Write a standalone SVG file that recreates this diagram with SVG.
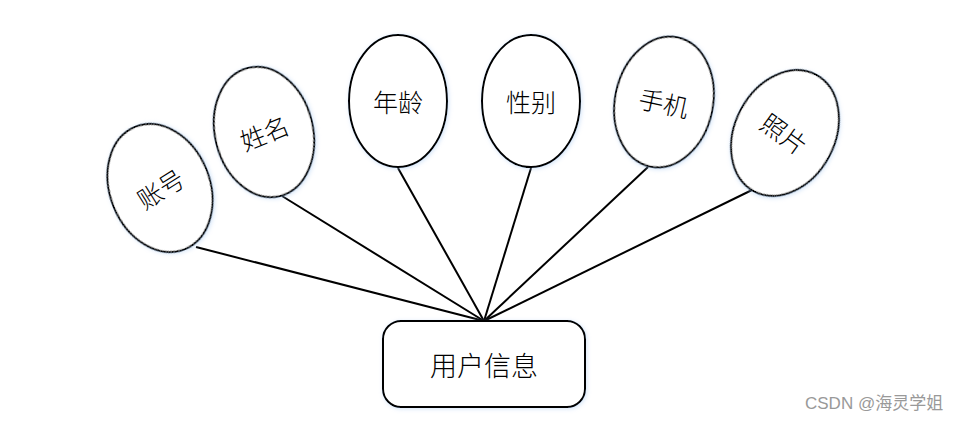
<svg xmlns="http://www.w3.org/2000/svg" width="958" height="422" viewBox="0 0 958 422">
<defs>
<filter id="glow" x="-20%" y="-20%" width="140%" height="140%">
<feDropShadow dx="1" dy="1" stdDeviation="2" flood-color="#9ec3f0" flood-opacity="0.45"/>
</filter>
<style>
.shape{fill:#fff;stroke:#000;stroke-width:2;filter:url(#glow)}
.lbl{font-family:"Noto Sans CJK SC","Noto Sans",sans-serif;font-size:25px;font-weight:300;fill:#000;text-anchor:middle;dominant-baseline:central}
.conn line{stroke:#000;stroke-width:2}
.wm{font-family:"Liberation Sans","Noto Sans CJK SC",sans-serif;font-size:17px;fill:#999}
</style>
</defs>
<rect width="958" height="422" fill="#fff"/>
<g class="conn" id="connectors">
<line x1="484" y1="321" x2="196" y2="247"/>
<line x1="484" y1="321" x2="282" y2="196"/>
<line x1="484" y1="321" x2="398" y2="168"/>
<line x1="484" y1="321" x2="531" y2="168"/>
<line x1="484" y1="321" x2="648" y2="167"/>
<line x1="484" y1="321" x2="752" y2="190"/>
</g>
<g id="node-zhanghao" transform="translate(160,188) rotate(-22)">
<ellipse class="shape" cx="0" cy="0" rx="50" ry="66"/>
<text class="lbl" x="0" y="0" transform="rotate(-10)">账号</text>
</g>
<g id="node-xingming" transform="translate(264,132) rotate(-14)">
<ellipse class="shape" cx="0" cy="0" rx="49" ry="66"/>
<text class="lbl" x="0" y="0" transform="rotate(-8)">姓名</text>
</g>
<g id="node-nianling" transform="translate(398,101)">
<ellipse class="shape" cx="0" cy="0" rx="49" ry="66"/>
<text class="lbl" x="0" y="0">年龄</text>
</g>
<g id="node-xingbie" transform="translate(531,101)">
<ellipse class="shape" cx="0" cy="0" rx="49" ry="66"/>
<text class="lbl" x="0" y="0">性别</text>
</g>
<g id="node-shouji" transform="translate(664,102) rotate(12)">
<ellipse class="shape" cx="0" cy="0" rx="49" ry="66"/>
<text class="lbl" x="0" y="0">手机</text>
</g>
<g id="node-zhaopian" transform="translate(785,133) rotate(28)">
<ellipse class="shape" cx="0" cy="0" rx="50" ry="66"/>
<text class="lbl" x="0" y="0" transform="rotate(8)">照片</text>
</g>
<g id="node-yonghuxinxi">
<rect class="shape" x="383" y="321" width="202" height="86" rx="18" ry="18"/>
<text class="lbl" x="484" y="364" style="font-size:27px">用户信息</text>
</g>
<text class="wm" x="805" y="409">CSDN @海灵学姐</text>
</svg>
